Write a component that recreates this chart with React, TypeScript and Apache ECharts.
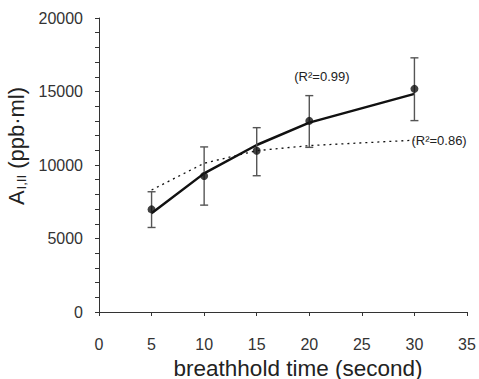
import React, { useEffect, useRef } from "react";
import * as echarts from "echarts";

const times = [5, 10, 15, 20, 30];
const means = [6980, 9250, 10975, 13000, 15180];
const errLow = [5750, 7270, 9270, 11200, 13020];
const errHigh = [8180, 11230, 12540, 14720, 17290];
const fitA = [6710, 9430, 11360, 12880, 14840]; // R^2 = 0.99
const fitB = [8300, 10120, 10975, 11320, 11690]; // R^2 = 0.86
const xTicks = [0, 5, 10, 15, 20, 25, 30, 35];
const yTicks = [0, 5000, 10000, 15000, 20000];

const FONT = "'Liberation Sans', Arial, Helvetica, sans-serif";

export default function App() {
  const ref = useRef<HTMLDivElement>(null);
  useEffect(() => {
    if (!ref.current) return;
    const chart = echarts.init(ref.current, undefined, { renderer: "svg" });
    const meanData = times.map((t, i) => [t, means[i]]);
    const errData = times.map((t, i) => [t, errLow[i], errHigh[i]]);
    const fitAData = times.map((t, i) => [t, fitA[i]]);
    const fitBData = times.map((t, i) => [t, fitB[i]]);
    const last = times.length - 1;
    chart.setOption({
      animation: false,
      backgroundColor: "#fff",
      textStyle: { fontFamily: FONT },
      grid: { left: 99, right: 12, top: 18, bottom: 67, containLabel: false, outerBoundsMode: "none" },
      xAxis: {
        type: "value",
        min: xTicks[0],
        max: xTicks[xTicks.length - 1],
        interval: 5,
        name: "breathhold time (second)",
        nameLocation: "middle",
        nameGap: 51,
        nameTextStyle: {
          fontSize: 22.5,
          lineHeight: 22,
          color: "#222",
          fontFamily: FONT,
          verticalAlign: "middle",
          padding: [0, 0, 0, 30],
        },
        axisLine: { lineStyle: { color: "#333", width: 1 } },
        axisTick: { show: true, length: 4, lineStyle: { color: "#333" } },
        axisLabel: { fontSize: 16, color: "#333", margin: 24, fontFamily: FONT },
        splitLine: { show: false },
      },
      yAxis: {
        type: "value",
        min: yTicks[0],
        max: yTicks[yTicks.length - 1],
        interval: 1000,
        name: "{a|A}{sub|I,II}{a| (ppb·ml)}",
        nameLocation: "middle",
        nameGap: 51,
        nameRotate: 90,
        nameTextStyle: {
          fontFamily: FONT,
          padding: [0, 0, 0, 38],
          rich: {
            a: { fontSize: 22, color: "#222", fontFamily: FONT },
            sub: { fontSize: 13, color: "#222", fontFamily: FONT, verticalAlign: "bottom", padding: [8, 0, 0, 1] },
          },
        },
        axisLine: { show: true, lineStyle: { color: "#333", width: 1 } },
        axisTick: { show: true, length: 4, lineStyle: { color: "#333" } },
        axisLabel: {
          fontSize: 16,
          color: "#333",
          margin: 16,
          fontFamily: FONT,
          formatter: (v: number) => (yTicks.indexOf(v) >= 0 ? String(v) : ""),
        },
        splitLine: { show: false },
      },
      series: [
        {
          type: "line",
          data: fitBData,
          symbol: "none",
          lineStyle: { color: "#111", width: 1.3, type: [2, 4] },
          markPoint: {
            symbol: "circle",
            symbolSize: 0,
            data: [{ coord: fitBData[last] }],
            label: {
              show: true,
              position: "right",
              distance: -3,
              formatter: "(R²=0.86)",
              fontSize: 13,
              color: "#222",
              fontFamily: FONT,
            },
          },
          z: 2,
        },
        {
          type: "line",
          data: fitAData,
          symbol: "none",
          lineStyle: { color: "#111", width: 2.5 },
          markPoint: {
            symbol: "circle",
            symbolSize: 0,
            data: [{ coord: [21.2, 16000] }],
            label: {
              show: true,
              position: "inside",
              formatter: "(R²=0.99)",
              fontSize: 13,
              color: "#222",
              fontFamily: FONT,
            },
          },
          z: 3,
        },
        {
          type: "custom",
          data: errData,
          renderItem: (params: any, api: any) => {
            const x = api.value(0);
            const lo = api.coord([x, api.value(1)]);
            const hi = api.coord([x, api.value(2)]);
            const w = 4;
            const style = { stroke: "#555", lineWidth: 1.4 };
            return {
              type: "group",
              children: [
                { type: "line", shape: { x1: lo[0], y1: lo[1], x2: hi[0], y2: hi[1] }, style },
                { type: "line", shape: { x1: lo[0] - w, y1: lo[1], x2: lo[0] + w, y2: lo[1] }, style },
                { type: "line", shape: { x1: hi[0] - w, y1: hi[1], x2: hi[0] + w, y2: hi[1] }, style },
              ],
            };
          },
          z: 4,
        },
        {
          type: "scatter",
          data: meanData,
          symbol: "circle",
          symbolSize: 8,
          itemStyle: { color: "#111" },
          z: 5,
        },
      ],
    });
    return () => chart.dispose();
  }, []);
  return <div ref={ref} style={{ width: 479, height: 379, position: "absolute", left: 0, top: 0 }} />;
}
